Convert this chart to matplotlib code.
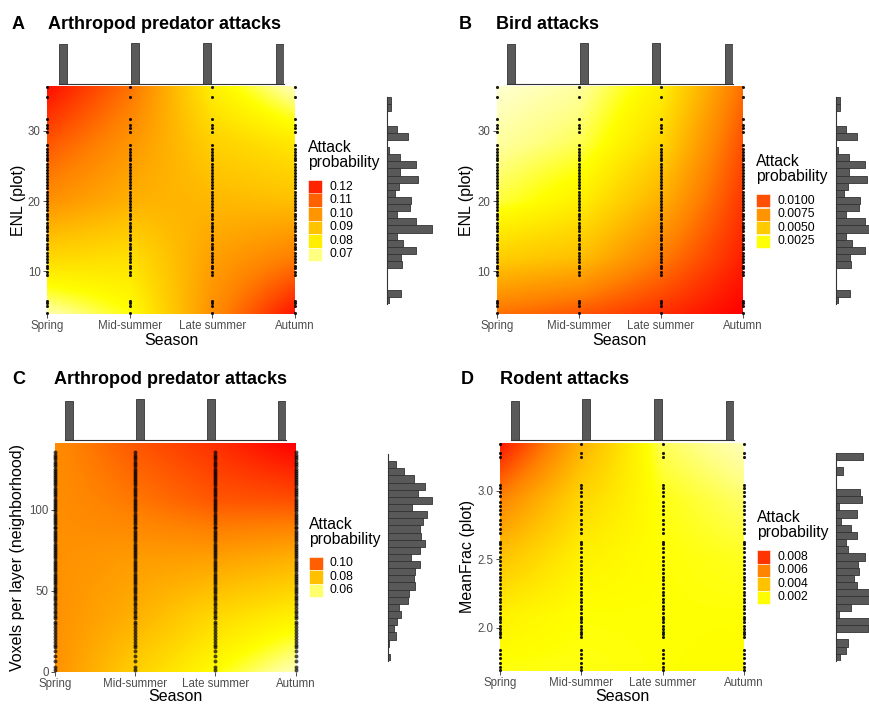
import matplotlib.pyplot as plt
import numpy as np
from matplotlib.colors import LinearSegmentedColormap, Normalize
from matplotlib.patches import Rectangle

plt.rcParams['font.family'] = ['Liberation Sans', 'DejaVu Sans']

W, H = 869, 704

# ---- data ----
seasons = ["Spring", "Mid-summer", "Late summer", "Autumn"]
season_counts = [58, 60, 60, 58]  # plots sampled per season (top marginal bars)

# ENL (plot) of the sampled plots
enl_plot = [36.2, 34.8, 31.7, 30.9, 30.4, 29.8, 28.0, 27.4, 27.0, 26.5, 26.2, 25.8,
            25.3, 24.9, 24.4, 24.0, 23.6, 23.1, 22.7, 22.3, 21.8, 21.3, 20.9, 20.4,
            20.0, 19.6, 19.1, 18.7, 18.2, 17.8, 17.4, 16.9, 16.5, 16.1, 15.7, 15.2,
            14.8, 14.4, 13.9, 13.5, 13.1, 12.6, 12.2, 11.7, 11.3, 10.8, 10.4, 9.9,
            9.5, 5.8, 5.5, 5.1, 4.0]
# voxels per layer (neighborhood)
voxels = [135.8, 134.1, 132.6, 131.2, 129.5, 128.3, 127.0, 125.4, 124.1, 122.9,
          121.6, 120.2, 118.8, 117.5, 116.3, 115.0, 113.6, 112.1, 110.9, 109.7,
          108.2, 106.8, 105.5, 104.3, 102.9, 101.6, 100.4, 99.0, 97.6, 96.3, 95.1,
          93.7, 92.2, 90.9, 89.6, 88.4, 87.0, 85.7, 84.3, 83.1, 81.8, 80.4, 79.1,
          77.7, 76.5, 75.2, 73.8, 72.4, 71.1, 69.9, 68.5, 67.2, 65.8, 64.6, 63.1,
          61.9, 60.5, 59.2, 57.8, 56.6, 55.1, 53.9, 52.5, 51.2, 49.8, 48.3, 46.9,
          45.4, 44.0, 42.3, 40.9, 39.2, 37.6, 36.1, 34.3, 32.8, 30.9, 29.2, 27.6,
          25.7, 23.8, 21.9, 20.3, 18.4, 16.6, 15.1, 12.8, 9.7, 6.2, 2.9, 0.8]
# MeanFrac (plot)
meanfrac = [3.34, 3.28, 3.25, 3.04, 3.02, 2.99, 2.96, 2.92, 2.89, 2.86, 2.83, 2.79,
            2.76, 2.72, 2.69, 2.63, 2.61, 2.58, 2.55, 2.52, 2.49, 2.46, 2.43, 2.40,
            2.37, 2.35, 2.32, 2.29, 2.26, 2.24, 2.21, 2.19, 2.16, 2.14, 2.11, 2.08,
            2.06, 2.04, 2.01, 1.99, 1.97, 1.95, 1.93, 1.84, 1.81, 1.78, 1.74, 1.71, 1.69]

# side histograms, counts per bin from top to bottom
enl_hist = [4, 4, 0, 0, 10, 21, 0, 2, 13, 29, 13, 31, 12, 8, 24, 23, 10, 29, 45,
            10, 16, 29, 14, 15, 0, 0, 0, 14, 2]
vox_hist = [0, 8, 16, 26, 37, 30, 44, 24, 39, 35, 32, 33, 37, 32, 23, 32, 27, 26,
            27, 21, 20, 11, 13, 9, 6, 8, 1, 0, 2]
frac_hist = [27, 0, 7, 0, 0, 24, 26, 3, 21, 5, 15, 21, 10, 12, 29, 22, 23, 18, 21,
             35, 35, 15, 3, 37, 32, 0, 12, 10, 4]

# predicted attack probability, rows = y levels (bottom -> top), cols = seasons
enl_levels = [3.9, 12.0, 20.15, 28.3, 36.4]
arth_enl = [[0.0668, 0.0754, 0.1011, 0.1230],
            [0.0851, 0.0832, 0.0976, 0.1047],
            [0.1011, 0.0941, 0.0924, 0.0906],
            [0.1119, 0.1001, 0.0869, 0.0813],
            [0.1240, 0.1073, 0.0795, 0.0662]]
bird_enl = [[0.0089, 0.0098, 0.0111, 0.0127],
            [0.0048, 0.0055, 0.0084, 0.0116],
            [0.0019, 0.0032, 0.0062, 0.0108],
            [0.0009, 0.0017, 0.0044, 0.0100],
            [0.0003, 0.0009, 0.0032, 0.0089]]
vox_levels = [0.0, 35.35, 70.7, 106.05, 141.4]
arth_vox = [[0.0906, 0.0763, 0.0652, 0.0552],
            [0.0906, 0.0836, 0.0744, 0.0687],
            [0.0906, 0.0881, 0.0872, 0.0836],
            [0.0910, 0.0957, 0.1013, 0.1024],
            [0.0915, 0.1013, 0.1079, 0.1160]]
frac_levels = [1.683, 2.1, 2.518, 2.935, 3.353]
rodent_frac = [[0.0018, 0.0018, 0.0019, 0.0020],
               [0.0024, 0.0019, 0.0019, 0.0019],
               [0.0040, 0.0024, 0.0019, 0.0017],
               [0.0060, 0.0033, 0.0018, 0.0012],
               [0.0088, 0.0046, 0.0013, 0.0005]]

heat_colors = ['#FFFFD0', '#FFFF80', '#FFFF00', '#FFC000', '#FF8000', '#FF0000']
heat_stops = [0.0, 0.08, 0.18, 0.42, 0.65, 1.0]
cmap = LinearSegmentedColormap.from_list('heat', list(zip(heat_stops, heat_colors)))

BAR = '#595959'
EDGE = '#333333'


def box(l, t, r, b):
    return [l / W, 1 - b / H, (r - l) / W, (b - t) / H]


fig = plt.figure(figsize=(W / 100, H / 100), dpi=100)


def heat_panel(rect, grid, levels, vmin, vmax, yvals, yticks, yticklabels, ylabel,
               ylab_x, xlab_y, alpha, size):
    ax = fig.add_axes(box(*rect))
    dy = (levels[-1] - levels[0]) / (len(levels) - 1)
    ax.imshow(np.array(grid), origin='lower', aspect='auto', cmap=cmap,
              vmin=vmin, vmax=vmax, interpolation='bilinear',
              interpolation_stage='data',
              extent=[-0.5, 3.5, levels[0] - dy / 2, levels[-1] + dy / 2])
    for i in range(len(seasons)):
        ax.scatter([i] * len(yvals), yvals, s=size, color='black', alpha=alpha,
                   linewidths=0, clip_on=False, zorder=3)
    ax.set_xlim(0, 3)
    ax.set_ylim(levels[0], levels[-1])
    ax.set_xticks(range(4))
    ax.set_xticklabels(seasons)
    ax.set_yticks(yticks)
    ax.set_yticklabels(yticklabels)
    for s in ax.spines.values():
        s.set_visible(False)
    ax.tick_params(length=3, width=0.6, color='#333333', labelsize=8.3,
                   labelcolor='#4D4D4D', pad=1.5)
    ax.set_xlabel('Season', fontsize=11.5, va='center')
    ax.xaxis.set_label_coords(0.5, xlab_y)
    ax.set_ylabel(ylabel, fontsize=11.5, va='center')
    ax.yaxis.set_label_coords(ylab_x, 0.5)
    return Normalize(vmin, vmax)


def top_bars(rect):
    ax = fig.add_axes(box(*rect))
    w = 0.11
    ax.bar(range(4), season_counts, width=w, color=BAR, edgecolor=EDGE, linewidth=0.6)
    ax.set_xlim(-w / 2, 3 + w / 2)
    ax.set_ylim(0, max(season_counts))
    for k in ['top', 'left', 'right']:
        ax.spines[k].set_visible(False)
    ax.spines['bottom'].set_color(EDGE)
    ax.spines['bottom'].set_linewidth(0.8)
    ax.set_xticks([])
    ax.set_yticks([])
    ax.patch.set_alpha(0)


def side_hist(rect, counts):
    ax = fig.add_axes(box(*rect))
    n = len(counts)
    ax.barh(np.arange(n), counts, height=1.0, color=BAR, edgecolor=EDGE, linewidth=0.6)
    ax.set_ylim(n - 0.5, -0.5)
    ax.set_xlim(0, rect[2] - rect[0])
    for k in ['top', 'bottom', 'right']:
        ax.spines[k].set_visible(False)
    ax.spines['left'].set_color(EDGE)
    ax.spines['left'].set_linewidth(0.8)
    ax.set_xticks([])
    ax.set_yticks([])
    ax.patch.set_alpha(0)


def legend(kx, ktop, values, labels, norm):
    fig.text(kx / W, 1 - (ktop - 39.5) / H, 'Attack\nprobability', ha='left', va='top',
             fontsize=11.3, linespacing=0.95)
    kh = 13.5
    for i, (v, lab) in enumerate(zip(values, labels)):
        y0 = ktop + i * kh
        fig.add_artist(Rectangle((kx / W, 1 - (y0 + kh) / H), 13.5 / W, kh / H,
                                 transform=fig.transFigure, facecolor=cmap(norm(v)),
                                 edgecolor='white', linewidth=0.4))
        fig.text((kx + 21) / W, 1 - (y0 + kh / 2) / H, lab, ha='left', va='center',
                 fontsize=8.7)


def heading(lx, tx, base, letter, title):
    fig.text(lx / W, 1 - base / H, letter, fontsize=13, fontweight='bold', va='baseline')
    fig.text(tx / W, 1 - base / H, title, fontsize=13, fontweight='bold', va='baseline')


# ---- A ----
heading(12, 47.7, 29, 'A', 'Arthropod predator attacks')
nA = heat_panel((47, 86, 295, 314), arth_enl, enl_levels, 0.065, 0.126, enl_plot,
                [10, 20, 30], ['10', '20', '30'], 'ENL (plot)', -0.113, -0.118, 0.9, 5)
top_bars((58.7, 42.7, 283.7, 84.3))
side_hist((386.7, 97, 446.7, 304), enl_hist)
legend(308, 180, [0.12, 0.11, 0.10, 0.09, 0.08, 0.07],
       ['0.12', '0.11', '0.10', '0.09', '0.08', '0.07'], nA)

# ---- B ----
heading(459, 496, 29, 'B', 'Bird attacks')
nB = heat_panel((496.7, 86, 742.5, 314), bird_enl, enl_levels, 0.0003, 0.0127, enl_plot,
                [10, 20, 30], ['10', '20', '30'], 'ENL (plot)', -0.121, -0.118, 0.9, 5)
top_bars((507, 42.7, 732.7, 84))
side_hist((835.7, 97, 895.7, 304), enl_hist)
legend(756, 194, [0.0100, 0.0075, 0.0050, 0.0025],
       ['0.0100', '0.0075', '0.0050', '0.0025'], nB)

# ---- C ----
heading(12, 54.3, 384, 'C', 'Arthropod predator attacks')
nC = heat_panel((55, 442.7, 295.5, 671.5), arth_vox, vox_levels, 0.054, 0.116, voxels,
                [0, 50, 100], ['0', '50', '100'], 'Voxels per layer (neighborhood)',
                -0.154, -0.111, 0.7, 8)
top_bars((65.3, 399.3, 285.7, 440.3))
side_hist((387.7, 454, 447.7, 661), vox_hist)
legend(309, 556.7, [0.10, 0.08, 0.06], ['0.10', '0.08', '0.06'], nC)

# ---- D ----
heading(461, 500, 384, 'D', 'Rodent attacks')
nD = heat_panel((500, 442.7, 744, 671), rodent_frac, frac_levels, 0.0003, 0.0093, meanfrac,
                [2.0, 2.5, 3.0], ['2.0', '2.5', '3.0'], 'MeanFrac (plot)',
                -0.135, -0.111, 0.9, 5)
top_bars((510.7, 399.3, 733.7, 440.3))
side_hist((836, 453, 896, 661), frac_hist)
legend(756.7, 550, [0.008, 0.006, 0.004, 0.002], ['0.008', '0.006', '0.004', '0.002'], nD)

fig.savefig('out.png', dpi=100)
